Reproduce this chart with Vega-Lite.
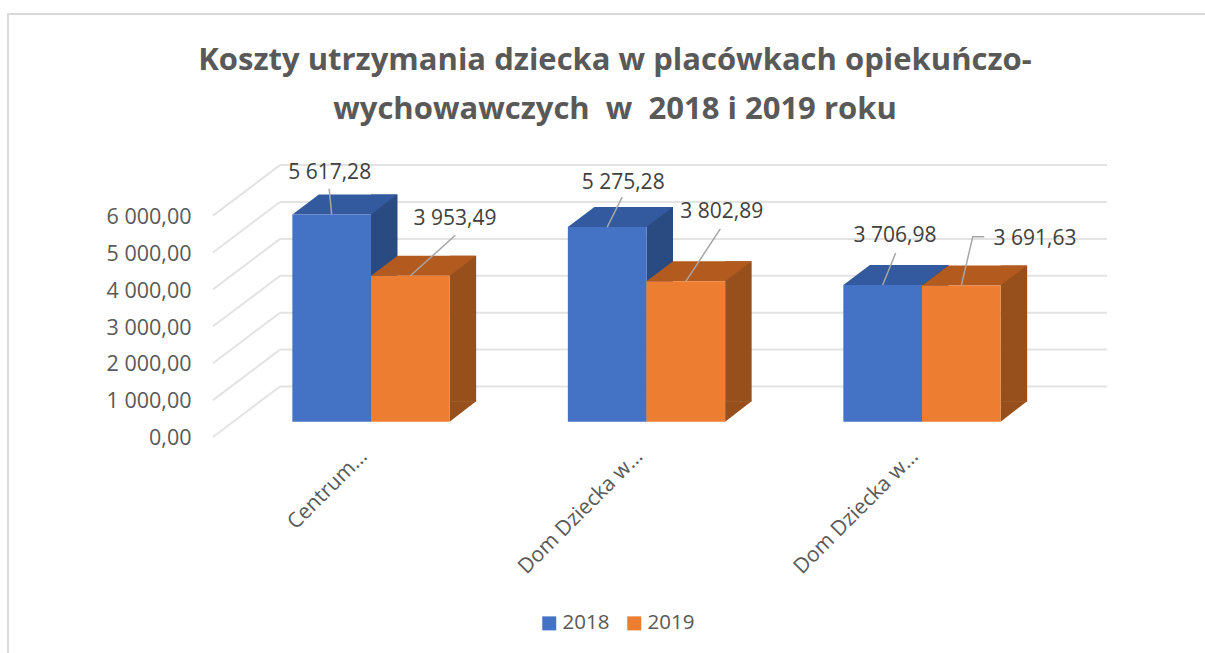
{"$schema":"https://vega.github.io/schema/vega-lite/v6.json","width":1214,"height":650,"autosize":{"type":"none"},"padding":{"left":8,"top":14,"right":0,"bottom":0},"background":"white","config":{"view":{"stroke":"#d9d9d9","strokeWidth":2},"font":"Open Sans","text":{"font":"Open Sans","fontSize":21,"color":"#404040"}},"title":{"text":["Koszty utrzymania dziecka w placówkach opiekuńczo-","wychowawczych  \u00a0w \u00a02018 i 2019 roku"],"font":"Open Sans","fontSize":31,"fontWeight":"bold","color":"#595959","anchor":"middle","baseline":"top","offset":0,"dy":112,"lineHeight":49},"datasets":{"bars":[{"placowka":"Centrum…","rok":"2018","koszt":5617.28,"label":"5 617,28"},{"placowka":"Centrum…","rok":"2019","koszt":3953.49,"label":"3 953,49"},{"placowka":"Dom Dziecka w…","rok":"2018","koszt":5275.28,"label":"5 275,28"},{"placowka":"Dom Dziecka w…","rok":"2019","koszt":3802.89,"label":"3 802,89"},{"placowka":"Dom Dziecka w… ","rok":"2018","koszt":3706.98,"label":"3 706,98"},{"placowka":"Dom Dziecka w… ","rok":"2019","koszt":3691.63,"label":"3 691,63"}],"grid":[{"tick":0},{"tick":1000},{"tick":2000},{"tick":3000},{"tick":4000},{"tick":5000},{"tick":6000}]},"resolve":{"scale":{"x":"independent","color":"independent"}},"layer":[{"data":{"name":"grid"},"mark":{"type":"rule","color":"#e3e3e3","strokeWidth":2,"yOffset":-35.2,"y2Offset":-35.2},"encoding":{"x":{"datum":0,"type":"quantitative","scale":{"domain":[0,1],"range":[272,1099]},"axis":null},"x2":{"datum":1},"y":{"field":"tick","type":"quantitative","scale":{"domain":[0,6000],"range":[407.7,186.3]},"axis":{"orient":"left","offset":-183,"title":null,"domain":false,"ticks":false,"grid":false,"values":[0,1000,2000,3000,4000,5000,6000],"labelOffset":17,"labelPadding":0,"labelFont":"Open Sans","labelFontSize":21.5,"labelColor":"#595959","labelExpr":"replace(replace(format(datum.value,',.2f'),',',' '),'.',',')"}},"y2":{"field":"tick"}}},{"data":{"name":"grid"},"mark":{"type":"rule","color":"#e3e3e3","strokeWidth":2,"yOffset":15.3,"y2Offset":-35.2},"encoding":{"x":{"datum":0,"type":"quantitative","scale":{"domain":[0,1],"range":[205,272]},"axis":null},"x2":{"datum":1},"y":{"field":"tick","type":"quantitative"},"y2":{"field":"tick"}}},{"data":{"name":"bars"},"resolve":{"scale":{"color":"independent"}},"layer":[{"transform":[{"filter":"datum.rok==='2018'"}],"mark":{"type":"rule","color":"#2a4a82","strokeWidth":26.5,"xOffset":13.25,"yOffset":-20,"y2Offset":-20},"encoding":{"xOffset":null,"y2":{"datum":0}}},{"transform":[{"filter":"datum.rok==='2019'"}],"mark":{"type":"rule","color":"#97501c","strokeWidth":26.5,"xOffset":91.9,"yOffset":-20,"y2Offset":-20},"encoding":{"xOffset":null,"y2":{"datum":0}}},{"mark":{"type":"point","filled":true,"opacity":1,"size":10000,"shape":"M-0.786,0L-0.256,-0.4L1.316,-0.4L0.786,0Z"},"encoding":{"color":{"field":"rok","type":"nominal","scale":{"range":["#335a9e","#b35a1f"]},"legend":null}}},{"mark":{"type":"point","filled":true,"opacity":1,"size":10000,"shape":"M0.786,0L0.786,-0.41L1.316,-0.41Z"},"encoding":{"y":{"datum":0,"type":"quantitative"},"color":{"field":"rok","type":"nominal","scale":{"range":["#2a4a82","#97501c"]},"legend":null}}},{"mark":{"type":"bar"},"encoding":{"color":{"field":"rok","type":"nominal","scale":{"domain":["2018","2019"],"range":["#4472c4","#ed7d31"]},"legend":{"orient":"none","legendX":531,"legendY":599,"direction":"horizontal","title":null,"symbolType":"square","symbolSize":196,"symbolStrokeWidth":0,"labelFont":"Open Sans","labelFontSize":20.5,"labelColor":"#595959","labelOffset":3,"columnPadding":14}}}},{"mark":{"type":"point","filled":false,"opacity":1,"size":10000,"color":"#a6a6a6","strokeWidth":1.5},"encoding":{"shape":{"field":"label","type":"nominal","legend":null,"scale":{"domain":["5 617,28","3 953,49","5 275,28","3 802,89","3 706,98","3 691,63"],"range":["M0,0L-0.05,-0.51","M0,0L0.9,-0.81","M0,0L0.3,-0.6","M0,0L0.69,-1.05","M0,0L0.26,-0.64","M0,0L0.23,-0.976L0.46,-0.976"]}}}},{"transform":[{"filter":"datum.label==='5 617,28'"}],"mark":{"type":"text","dx":-2,"dy":-41},"encoding":{"text":{"field":"label"}}},{"transform":[{"filter":"datum.label==='3 953,49'"}],"mark":{"type":"text","dx":44.7,"dy":-57.3},"encoding":{"text":{"field":"label"}}},{"transform":[{"filter":"datum.label==='5 275,28'"}],"mark":{"type":"text","dx":16,"dy":-44.5},"encoding":{"text":{"field":"label"}}},{"transform":[{"filter":"datum.label==='3 802,89'"}],"mark":{"type":"text","dx":36,"dy":-68.9},"encoding":{"text":{"field":"label"}}},{"transform":[{"filter":"datum.label==='3 706,98'"}],"mark":{"type":"text","dx":12.3,"dy":-48.5},"encoding":{"text":{"field":"label"}}},{"transform":[{"filter":"datum.label==='3 691,63'"}],"mark":{"type":"text","dx":73.7,"dy":-46},"encoding":{"text":{"field":"label"}}}],"encoding":{"x":{"field":"placowka","type":"nominal","sort":null,"scale":{"range":[225.25,1051.75],"paddingInner":0.429,"paddingOuter":0.2145},"axis":{"orient":"bottom","offset":-211,"title":null,"domain":false,"ticks":false,"labelAngle":-45,"labelAlign":"right","labelBaseline":"middle","labelFont":"Open Sans","labelFontSize":21,"labelColor":"#595959","labelPadding":0,"labelOffset":-7}},"xOffset":{"field":"rok","type":"nominal","scale":{"paddingInner":0,"paddingOuter":0}},"y":{"field":"koszt","type":"quantitative"}}}]}
